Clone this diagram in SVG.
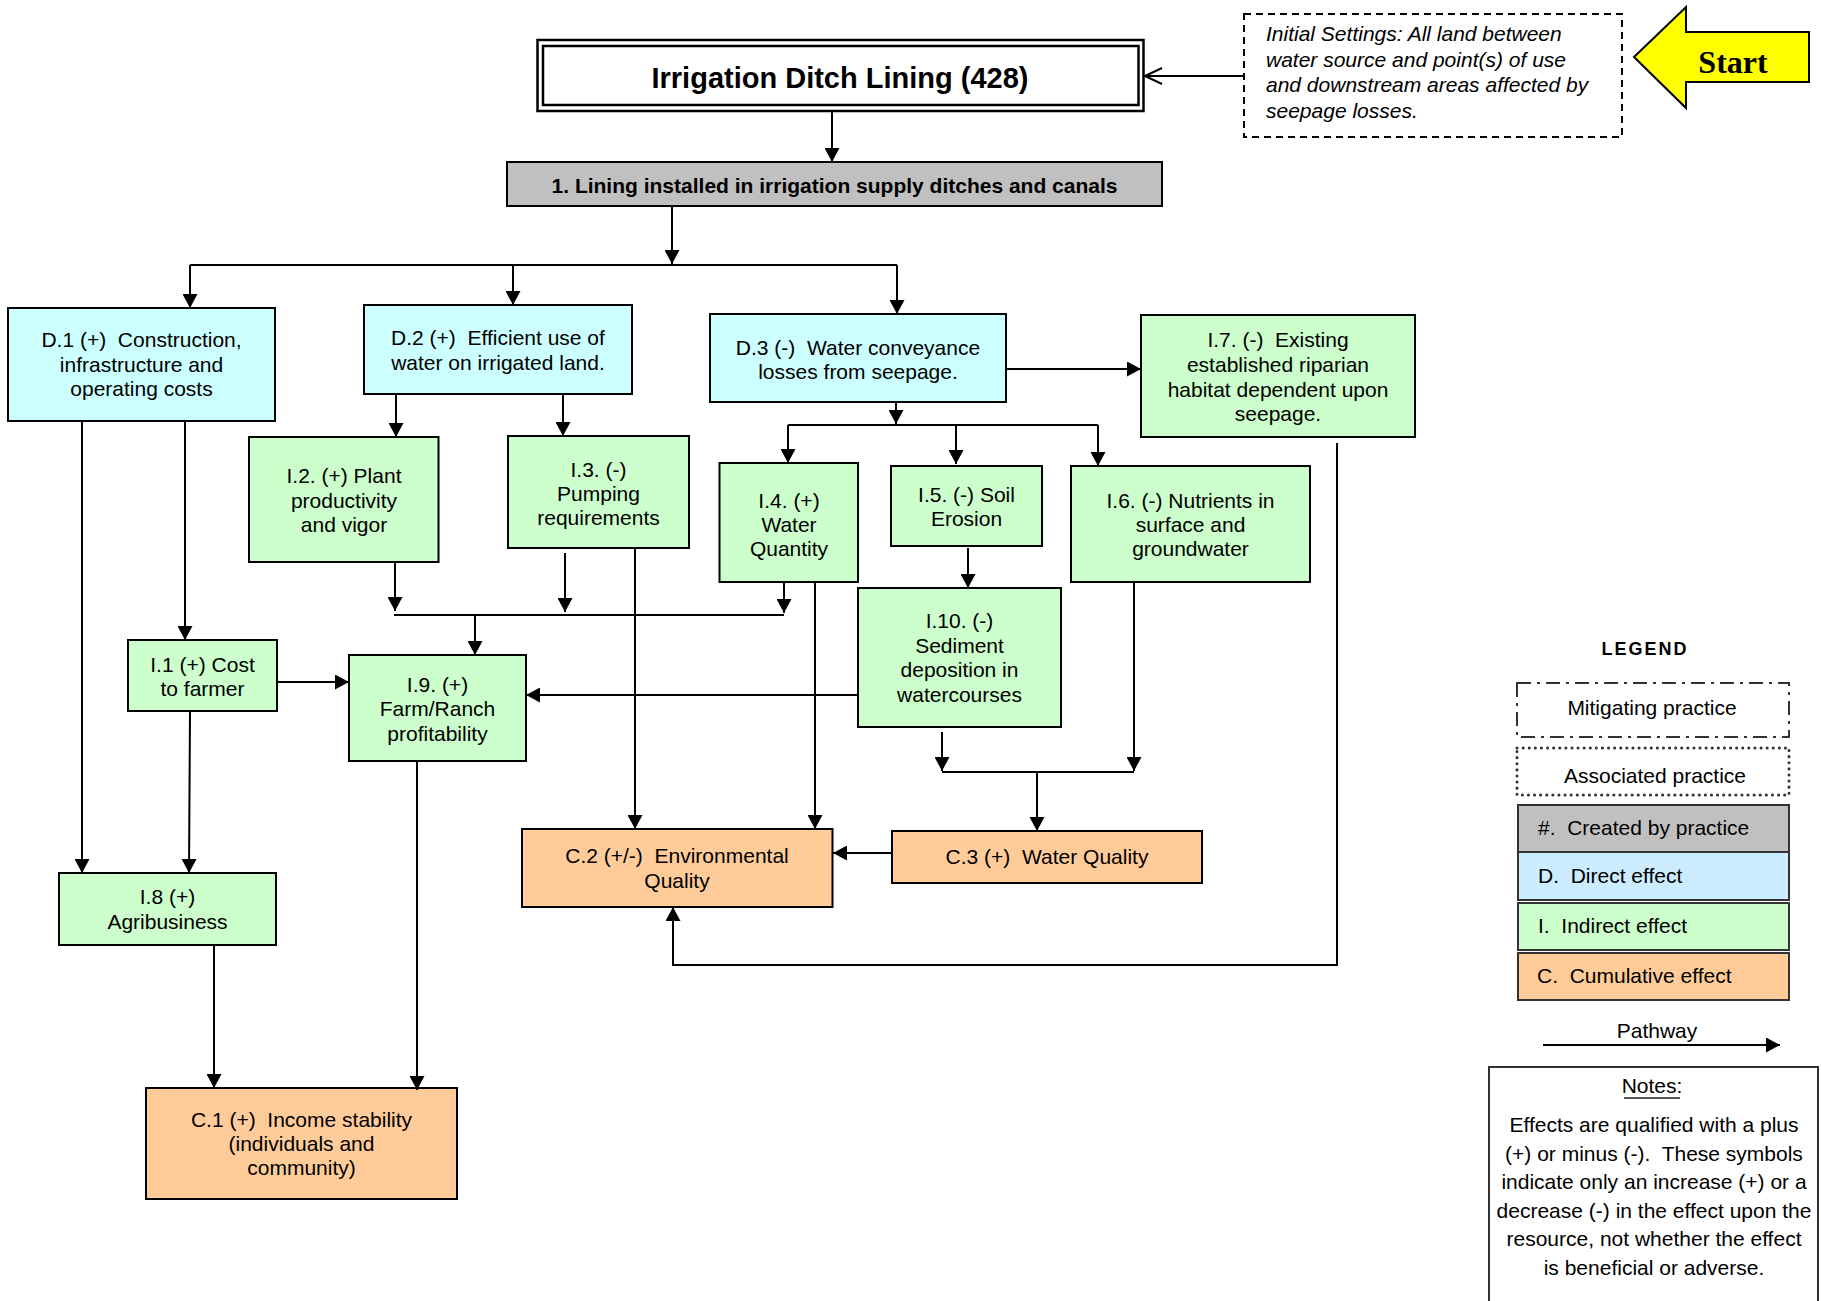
<svg xmlns="http://www.w3.org/2000/svg" width="1821" height="1301" viewBox="0 0 1821 1301">
  <style>
    text { font-family: "Liberation Sans", Arial, sans-serif; font-size: 21px; fill: #000; white-space: pre; }
    .c { text-anchor: middle; }
    .b { font-weight: bold; }
    .box { stroke: #000; stroke-width: 2; }
    .gray { fill: #C0C0C0; }
    .direct { fill: #CCFFFF; }
    .indirect { fill: #CCFFCC; }
    .cumul { fill: #FFCC99; }
    .wire { fill: none; stroke: #000; stroke-width: 2; }
    .leg { stroke: #333; stroke-width: 2; }
  </style>
  <defs>
    <marker id="arrow" markerUnits="userSpaceOnUse" markerWidth="14" markerHeight="15" refX="14" refY="7.5" orient="auto">
      <path d="M0,0 L14,7.5 L0,15 z" fill="#000"/>
    </marker>
    <marker id="open" markerUnits="userSpaceOnUse" markerWidth="20" markerHeight="18" refX="18" refY="9" orient="auto">
      <path d="M1,1 L18,9 L1,17" fill="none" stroke="#000" stroke-width="2"/>
    </marker>
  </defs>
  <rect width="1821" height="1301" fill="#fff"/>

  <!-- practice title -->
  <g id="title">
    <rect x="537.5" y="40" width="606" height="71" fill="#fff" stroke="#000" stroke-width="2.5"/>
    <rect x="543" y="46" width="595.5" height="59" fill="none" stroke="#000" stroke-width="2.5"/>
    <text class="c b" x="840" y="88" style="font-size:29px">Irrigation Ditch Lining (428)</text>
  </g>

  <!-- initial settings -->
  <g id="initial-settings">
    <rect x="1244" y="14" width="378" height="123" fill="#fff" stroke="#000" stroke-width="2" stroke-dasharray="7 5"/>
    <text style="font-style:italic"><tspan x="1266" y="41">Initial Settings: All land between</tspan><tspan x="1266" y="66.5">water source and point(s) of use</tspan><tspan x="1266" y="92">and downstream areas affected by</tspan><tspan x="1266" y="117.5">seepage losses.</tspan></text>
  </g>

  <!-- start marker -->
  <g id="start">
    <polygon points="1634,57 1686,7 1686,32 1809,32 1809,82 1686,82 1686,108" fill="#FFFF00" stroke="#000" stroke-width="2"/>
    <text class="c b" x="1733" y="73" style="font-family:'Liberation Serif','Times New Roman',serif;font-size:32px">Start</text>
  </g>

  <g id="n1">
    <rect class="box gray" x="507" y="162" width="655" height="44"/>
    <text class="c b" x="834.5" y="192.5">1. Lining installed in irrigation supply ditches and canals</text>
  </g>

  <g id="d1">
    <rect class="box direct" x="8" y="308" width="267" height="113"/>
    <text class="c"><tspan x="141.5" y="347">D.1 (+)  Construction,</tspan><tspan x="141.5" y="371.5">infrastructure and</tspan><tspan x="141.5" y="396">operating costs</tspan></text>
  </g>
  <g id="d2">
    <rect class="box direct" x="364" y="305" width="268" height="89"/>
    <text class="c"><tspan x="498" y="345">D.2 (+)  Efficient use of</tspan><tspan x="498" y="370">water on irrigated land.</tspan></text>
  </g>
  <g id="d3">
    <rect class="box direct" x="710" y="314" width="296" height="88"/>
    <text class="c"><tspan x="858" y="354.5">D.3 (-)  Water conveyance</tspan><tspan x="858" y="378.5">losses from seepage.</tspan></text>
  </g>

  <g id="i7">
    <rect class="box indirect" x="1141" y="315" width="274" height="122"/>
    <text class="c"><tspan x="1278" y="347">I.7. (-)  Existing</tspan><tspan x="1278" y="372">established riparian</tspan><tspan x="1278" y="397">habitat dependent upon</tspan><tspan x="1278" y="421">seepage.</tspan></text>
  </g>
  <g id="i2">
    <rect class="box indirect" x="249" y="437" width="189.5" height="125"/>
    <text class="c"><tspan x="344" y="483">I.2. (+) Plant</tspan><tspan x="344" y="507.5">productivity</tspan><tspan x="344" y="532">and vigor</tspan></text>
  </g>
  <g id="i3">
    <rect class="box indirect" x="508" y="436" width="181" height="112"/>
    <text class="c"><tspan x="598.5" y="476.5">I.3. (-)</tspan><tspan x="598.5" y="500.5">Pumping</tspan><tspan x="598.5" y="524.5">requirements</tspan></text>
  </g>
  <g id="i4">
    <rect class="box indirect" x="719.5" y="463" width="138.5" height="119"/>
    <text class="c"><tspan x="789" y="508">I.4. (+)</tspan><tspan x="789" y="532">Water</tspan><tspan x="789" y="556">Quantity</tspan></text>
  </g>
  <g id="i5">
    <rect class="box indirect" x="891" y="466" width="151" height="80"/>
    <text class="c"><tspan x="966.5" y="501.5">I.5. (-) Soil</tspan><tspan x="966.5" y="526">Erosion</tspan></text>
  </g>
  <g id="i6">
    <rect class="box indirect" x="1071" y="466" width="239" height="116"/>
    <text class="c"><tspan x="1190.5" y="508">I.6. (-) Nutrients in</tspan><tspan x="1190.5" y="532">surface and</tspan><tspan x="1190.5" y="556">groundwater</tspan></text>
  </g>
  <g id="i1">
    <rect class="box indirect" x="128" y="640" width="149" height="71"/>
    <text class="c"><tspan x="202.5" y="671.5">I.1 (+) Cost</tspan><tspan x="202.5" y="696">to farmer</tspan></text>
  </g>
  <g id="i9">
    <rect class="box indirect" x="349" y="655" width="177" height="106"/>
    <text class="c"><tspan x="437.5" y="692">I.9. (+)</tspan><tspan x="437.5" y="716">Farm/Ranch</tspan><tspan x="437.5" y="741">profitability</tspan></text>
  </g>
  <g id="i10">
    <rect class="box indirect" x="858" y="588" width="203" height="139"/>
    <text class="c"><tspan x="959.5" y="628">I.10. (-)</tspan><tspan x="959.5" y="653">Sediment</tspan><tspan x="959.5" y="677">deposition in</tspan><tspan x="959.5" y="702">watercourses</tspan></text>
  </g>
  <g id="i8">
    <rect class="box indirect" x="59" y="873" width="217" height="72"/>
    <text class="c"><tspan x="167.5" y="904">I.8 (+)</tspan><tspan x="167.5" y="929">Agribusiness</tspan></text>
  </g>

  <g id="c1">
    <rect class="box cumul" x="146" y="1088" width="311" height="111"/>
    <text class="c"><tspan x="301.5" y="1126.5">C.1 (+)  Income stability</tspan><tspan x="301.5" y="1151">(individuals and</tspan><tspan x="301.5" y="1175">community)</tspan></text>
  </g>
  <g id="c2">
    <rect class="box cumul" x="522" y="829" width="310.5" height="78"/>
    <text class="c"><tspan x="677" y="863">C.2 (+/-)  Environmental</tspan><tspan x="677" y="888">Quality</tspan></text>
  </g>
  <g id="c3">
    <rect class="box cumul" x="892" y="831" width="310" height="52"/>
    <text class="c" x="1047" y="864">C.3 (+)  Water Quality</text>
  </g>

  <!-- pathways -->
  <g id="connectors" class="wire">
    <path d="M1244,76 H1145" marker-end="url(#open)"/>
    <path d="M832,111 V162" marker-end="url(#arrow)"/>
    <path d="M672,206 V264" marker-end="url(#arrow)"/>
    <path d="M190,265 H897"/>
    <path d="M190,265 V308" marker-end="url(#arrow)"/>
    <path d="M513,265 V305" marker-end="url(#arrow)"/>
    <path d="M897,265 V314" marker-end="url(#arrow)"/>
    <path d="M396,394 V437" marker-end="url(#arrow)"/>
    <path d="M563,394 V436" marker-end="url(#arrow)"/>
    <path d="M82,421 V873" marker-end="url(#arrow)"/>
    <path d="M185,421 V640" marker-end="url(#arrow)"/>
    <path d="M190,711 L189,873" marker-end="url(#arrow)"/>
    <path d="M277,682 H349" marker-end="url(#arrow)"/>
    <path d="M395,562 V611" marker-end="url(#arrow)"/>
    <path d="M565,553 V612" marker-end="url(#arrow)"/>
    <path d="M784,582 V613" marker-end="url(#arrow)"/>
    <path d="M394,615 H784"/>
    <path d="M475,615 V655" marker-end="url(#arrow)"/>
    <path d="M635,548 V829" marker-end="url(#arrow)"/>
    <path d="M815,582 V829" marker-end="url(#arrow)"/>
    <path d="M1006,369 H1141" marker-end="url(#arrow)"/>
    <path d="M896,402 V424" marker-end="url(#arrow)"/>
    <path d="M788,425 H1098"/>
    <path d="M788,425 V463" marker-end="url(#arrow)"/>
    <path d="M956,425 V464" marker-end="url(#arrow)"/>
    <path d="M1098,425 V466" marker-end="url(#arrow)"/>
    <path d="M968,548 V588" marker-end="url(#arrow)"/>
    <path d="M858,695 H526" marker-end="url(#arrow)"/>
    <path d="M942,732 V771" marker-end="url(#arrow)"/>
    <path d="M1134,582 V771" marker-end="url(#arrow)"/>
    <path d="M942,772 H1134"/>
    <path d="M1037,772 V831" marker-end="url(#arrow)"/>
    <path d="M892,853 H833" marker-end="url(#arrow)"/>
    <path d="M1337,443 V965 H673 V907" marker-end="url(#arrow)"/>
    <path d="M214,945 V1088" marker-end="url(#arrow)"/>
    <path d="M417,761 V1090" marker-end="url(#arrow)"/>
  </g>

  <!-- legend -->
  <g id="legend">
    <text class="c b" x="1645" y="655" style="font-size:18px;letter-spacing:2px">LEGEND</text>
    <rect x="1517" y="683" width="272" height="54" fill="#fff" class="leg" stroke-dasharray="14 6 3 6"/>
    <text class="c" x="1652" y="715">Mitigating practice</text>
    <rect x="1517" y="748" width="272" height="47" fill="#fff" stroke="#333" stroke-width="3" stroke-dasharray="0.1 6" stroke-linecap="round"/>
    <text class="c" x="1655" y="783">Associated practice</text>
    <rect x="1518" y="805" width="271" height="47" class="leg" fill="#C0C0C0"/>
    <text x="1538" y="835">#.  Created by practice</text>
    <rect x="1518" y="852" width="271" height="48" class="leg" fill="#CCECFF"/>
    <text x="1538" y="883">D.  Direct effect</text>
    <rect x="1518" y="903" width="271" height="47" class="leg" fill="#CCFFCC"/>
    <text x="1538" y="933">I.  Indirect effect</text>
    <rect x="1518" y="953" width="271" height="47" class="leg" fill="#FFCC99"/>
    <text x="1537" y="983">C.  Cumulative effect</text>
    <text class="c" x="1657" y="1038">Pathway</text>
    <path d="M1543,1045 H1780" class="wire" marker-end="url(#arrow)"/>
  </g>

  <!-- notes -->
  <g id="notes">
    <rect x="1489" y="1067" width="329" height="260" fill="#fff" class="leg"/>
    <text class="c" x="1652" y="1093">Notes:</text>
    <path d="M1624,1098 H1680" stroke="#555" stroke-width="2"/>
    <text class="c"><tspan x="1654" y="1132">Effects are qualified with a plus</tspan><tspan x="1654" y="1160.5">(+) or minus (-).  These symbols</tspan><tspan x="1654" y="1189">indicate only an increase (+) or a</tspan><tspan x="1654" y="1217.5">decrease (-) in the effect upon the</tspan><tspan x="1654" y="1246">resource, not whether the effect</tspan><tspan x="1654" y="1274.5">is beneficial or adverse.</tspan></text>
  </g>
</svg>
